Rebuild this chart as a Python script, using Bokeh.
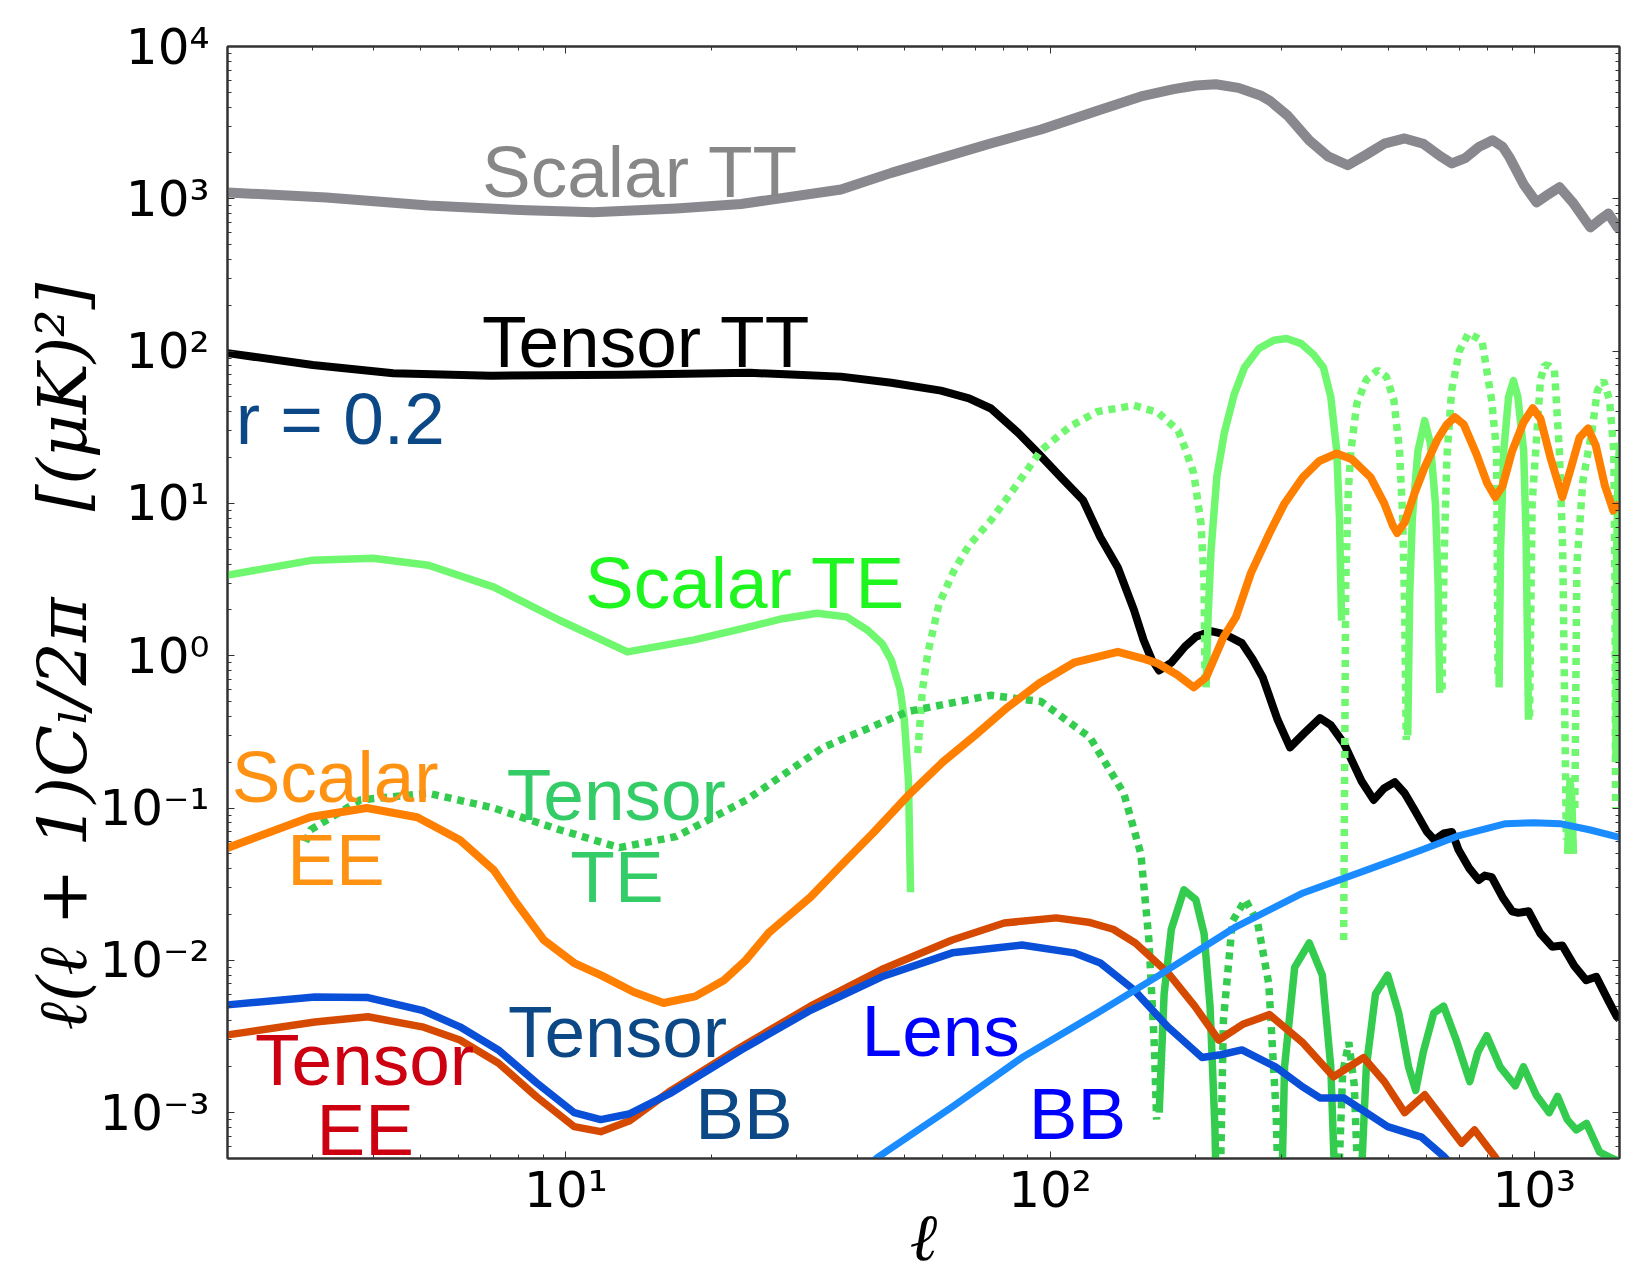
import math
from bokeh.plotting import figure
from bokeh.models import FixedTicker, LogAxis, Label, Range1d
from bokeh.embed import file_html
from bokeh.resources import INLINE

# ---- multipole values and power spectra, l(l+1)C_l/2pi in (muK)^2 ----
scalar_tt_ell = [2, 3.2, 5.2, 8.3, 11.4, 16.9, 23, 37, 47, 59.5, 75, 95.8, 127, 154, 180, 200,
                 220, 245, 272, 284, 310, 343, 375, 412, 450, 490, 540, 590, 640, 676, 720, 770,
                 820, 860, 889, 950, 1011, 1060, 1128, 1200, 1306, 1360, 1423, 1486, 1500]
scalar_tt = [1100, 1020, 905, 840, 815, 865, 925, 1150, 1480, 1850, 2300, 2850, 3850, 4700, 5250, 5550,
             5650, 5350, 4770, 4420, 3500, 2420, 1900, 1660, 1950, 2300, 2490, 2300, 1900, 1707, 1850, 2200,
             2420, 2200, 1870, 1250, 946, 1050, 1190, 950, 649, 720, 802, 649, 640]

tensor_tt_ell = [2, 3, 4.4, 7, 13, 24, 30, 37, 47, 59.5, 68, 75.5, 86, 95, 106, 117, 127, 138, 149,
                 156, 162, 168, 178, 190, 200, 215, 230, 249, 262, 275, 295, 313, 335, 361, 380, 404,
                 440, 466, 490, 515, 540, 566, 600, 622, 650, 676, 698, 735, 768, 790, 817, 860, 900,
                 927, 973, 1030, 1089, 1143, 1210, 1280, 1343, 1420, 1479, 1500]
tensor_tt = [97, 81, 71.5, 69, 70, 72, 70, 68, 62, 55, 49, 42, 29, 21, 14.5, 10.5, 6.0, 3.8, 2.0,
             1.27, 0.95, 0.8, 0.9, 1.15, 1.33, 1.45, 1.38, 1.21, 0.95, 0.72, 0.38, 0.25, 0.31, 0.39, 0.35, 0.267,
             0.15, 0.113, 0.135, 0.148, 0.125, 0.097, 0.07, 0.0617, 0.068, 0.0697, 0.053, 0.04, 0.0337, 0.036, 0.0352, 0.026, 0.021,
             0.0205, 0.021, 0.015, 0.0123, 0.0125, 0.0092, 0.0074, 0.0078, 0.0055, 0.0043, 0.0041]

# signed TE spectra: positive parts drawn solid, negative parts dotted
scalar_te_ell = [2, 3, 4, 5.2, 7.1, 9.7, 13.4, 18.4, 23, 28, 33, 38, 42, 45, 47, 49, 50, 51, 51.5,
                 53.3, 54.5, 55.9, 59, 63.4, 68, 75.5, 85, 95.8, 110, 125, 149, 167, 184, 191, 198, 205, 208, 209,
                 210, 212, 215, 221, 229, 240, 252, 270, 290, 308, 330, 350, 367, 380, 391, 396, 400,
                 404, 408, 413, 418, 430, 450, 475, 495, 513, 527, 535, 540, 544,
                 548, 553, 560, 575, 594, 610, 625, 633, 638,
                 645, 652, 660, 675, 700, 732, 780, 817, 836, 842,
                 846, 852, 865, 885, 906, 925, 951, 962, 973,
                 978, 990, 1007, 1030, 1050, 1075, 1101, 1127, 1145, 1165,
                 1172, 1185, 1195, 1205,
                 1213, 1225, 1260, 1316, 1350, 1391, 1430, 1460, 1468, 1472,
                 1474, 1480, 1490, 1500]
scalar_te = [3.38, 4.24, 4.37, 3.93, 2.82, 1.71, 1.06, 1.27, 1.5, 1.75, 1.9, 1.8, 1.47, 1.2, 0.935, 0.6, 0.38, 0.15, 0.028,
             -0.23, -0.6, -1.04, -2.2, -3.65, -5.3, -7.76, -13, -22.3, -32, -40, -44, -39.6, -30, -22, -15.8, -7.4, -3.0, -0.66,
             0.62, 1.8, 4.9, 15, 29, 52, 78, 104, 118, 121, 112, 95, 78, 50, 22, 8, 1.7,
             -0.0136, -3, -12, -22, -45, -65, -75, -68, -47.5, -22, -8, -2, -0.28,
             0.3, 2.5, 8, 22, 35, 25, 10, 3, 0.57,
             -0.6, -5, -20, -55, -100, -131, -117, -47, -22, -0.7,
             0.62, 5, 22, 50, 64, 50, 22, 6, 0.38,
             -0.4, -10, -22, -65, -81, -80, -75, -22, -5, -0.062,
             0.05, 0.15, 0.12, 0.05,
             -0.1, -4, -14, -30, -55, -64, -48, -22, -3, -0.1,
             0.2, 5, 15, 25]

tensor_te_ell = [2.9, 2.97, 3.76, 5.2, 7.1, 9.7, 12.9, 16.9, 23.6, 34, 50.8, 75.5, 95.8, 121, 142, 154, 160, 164, 166,
                 168, 172, 178, 189, 200, 208, 214, 219, 221,
                 224, 228, 238, 253, 268, 283, 293, 297,
                 300, 305, 320, 343, 365, 380, 388,
                 395, 402, 414, 425, 433,
                 438, 450, 470, 498, 525, 550, 569, 590, 620, 650, 690, 736, 765, 798, 850, 914, 950,
                 1010, 1074, 1117, 1170, 1222, 1282, 1365, 1450, 1500]
tensor_te = [-0.06, -0.072, -0.113, -0.125, -0.10, -0.072, -0.055, -0.065, -0.113, -0.25, -0.43, -0.55, -0.5, -0.29, -0.125, -0.05, -0.0136, -0.003, -0.0009,
             0.001, 0.006, 0.016, 0.029, 0.025, 0.015, 0.005, 0.0008, 0.0002,
             -0.0002, -0.004, -0.018, -0.025, -0.018, -0.007, -0.001, -0.0002,
             0.0002, 0.002, 0.009, 0.013, 0.008, 0.002, 0.0003,
             -0.0004, -0.0018, -0.0029, -0.0015, -0.0003,
             0.0003, 0.002, 0.006, 0.008, 0.0045, 0.002, 0.0014, 0.0025, 0.0045, 0.005, 0.003, 0.0016, 0.0025, 0.0032, 0.002, 0.0015, 0.002,
             0.0013, 0.001, 0.00128, 0.0009, 0.00077, 0.00085, 0.00055, 0.0005, 0.00048]

scalar_ee_ell = [2, 2.97, 3.88, 4.93, 6.04, 7.1, 7.9, 9.0, 10.4, 11.8, 13.8, 15.9, 18.5, 21.2, 23.5, 26.2,
                 32, 37, 43, 50.8, 60, 70, 81.8, 95, 112, 138, 157, 167, 183, 198, 210, 228, 242, 260,
                 284, 305, 333, 360, 391, 420, 459, 490, 510, 521, 540, 565, 594, 630, 660, 685, 715,
                 760, 800, 831, 860, 900, 950, 993, 1030, 1080, 1143, 1190, 1240, 1291, 1340, 1400, 1456, 1500]
scalar_ee = [0.0547, 0.0873, 0.1, 0.087, 0.0617, 0.039, 0.0238, 0.0136, 0.0096, 0.008, 0.0062, 0.00525, 0.0058, 0.0074, 0.0100, 0.0151,
             0.026, 0.042, 0.068, 0.12, 0.2, 0.3, 0.46, 0.66, 0.9, 1.06, 0.95, 0.89, 0.75, 0.62, 0.72, 1.32, 1.79, 3.5,
             6.4, 10, 14.9, 19, 21.3, 19.5, 14.9, 10, 7.2, 6.4, 7.5, 11.5, 17.3, 26, 33, 36.8, 33,
             21, 13.5, 11, 13, 22, 34, 42.2, 36, 20, 11, 17, 27, 31.1, 24, 13, 9, 10]

tensor_ee_ell = [2, 3.03, 3.9, 5.05, 6.04, 7.25, 8.7, 10.4, 11.8, 13.5, 16.5, 23, 32, 44.9, 62.8, 80.4, 103,
                 120, 135, 150, 175, 199, 223, 250, 284, 333, 385, 444, 490, 540, 594, 650, 708, 753, 831, 870]
tensor_ee = [0.00324, 0.00394, 0.00426, 0.00366, 0.003, 0.00212, 0.00127, 0.00081, 0.00075, 0.00088, 0.0014, 0.0027, 0.005, 0.0087, 0.0136, 0.0176, 0.019,
             0.0178, 0.016, 0.013, 0.0083, 0.005, 0.003, 0.0038, 0.0044, 0.00287, 0.00172, 0.0023, 0.0016, 0.001, 0.00131, 0.0009, 0.00063, 0.00077, 0.00051, 0.0004]

tensor_bb_ell = [2, 3.03, 3.9, 5.05, 6.04, 7.25, 8.7, 10.4, 11.8, 13.5, 16.5, 23, 32, 44.9, 62.8, 87.5, 112,
                 127, 149, 175, 206, 225, 249, 292, 330, 361, 404, 450, 498, 585, 653, 700]
tensor_bb = [0.0051, 0.00575, 0.0057, 0.0047, 0.00366, 0.00258, 0.00157, 0.001, 0.0009, 0.00098, 0.00135, 0.00258, 0.0047, 0.0078, 0.0112, 0.0126, 0.0112,
             0.0096, 0.0064, 0.00366, 0.0023, 0.0024, 0.00258, 0.002, 0.0015, 0.00125, 0.00125, 0.001, 0.00081, 0.00069, 0.00051, 0.0004]

lens_bb_ell = [42, 44.1, 62.8, 87.5, 125, 165, 242, 333, 459, 585, 700, 873, 1000, 1130, 1300, 1479, 1500]
lens_bb = [0.00045, 0.00051, 0.00109, 0.0023, 0.0045, 0.0077, 0.0166, 0.0277, 0.04, 0.053, 0.066, 0.079, 0.08, 0.079, 0.072, 0.065, 0.064]

# axis ticks
x_ticks = [10, 100, 1000]
x_tick_labels = ["10\u00b9", "10\u00b2", "10\u00b3"]
y_ticks = [0.001, 0.01, 0.1, 1, 10, 100, 1000, 10000]
y_tick_labels = ["10\u207b\u00b3", "10\u207b\u00b2", "10\u207b\u00b9", "10\u2070",
                 "10\u00b9", "10\u00b2", "10\u00b3", "10\u2074"]
x_minor = [m * 10 ** e for e in range(0, 4) for m in range(2, 10)]
y_minor = [m * 10.0 ** e for e in range(-4, 4) for m in range(2, 10)]


def split_by_sign(ells, vals):
    """Split a signed spectrum into runs of |value| for positive and negative parts."""
    pos, neg = [], []
    run, sign = None, None
    for l, v in zip(ells, vals):
        s = v > 0
        if sign is None or s != sign:
            if run:
                (pos if sign else neg).append(run)
            run = ([], [])
            sign = s
        run[0].append(l)
        run[1].append(abs(v))
    if run:
        (pos if sign else neg).append(run)
    return pos, neg


p = figure(width=1629, height=1279, x_axis_type="log", y_axis_type="log",
           x_range=Range1d(2, 1500), y_range=Range1d(5e-4, 1e4),
           output_backend="svg", toolbar_location=None,
           min_border_left=227, min_border_right=10, min_border_top=46, min_border_bottom=121)
p.background_fill_color = "white"
p.border_fill_color = "white"
p.outline_line_color = "#333333"
p.outline_line_width = 2
p.xgrid.visible = False
p.ygrid.visible = False

tick_font = "DejaVu Sans"
p.xaxis.ticker = FixedTicker(ticks=x_ticks, minor_ticks=x_minor)
p.xaxis.major_label_overrides = dict(zip(x_ticks, x_tick_labels))
p.xaxis.major_label_standoff = 2
p.yaxis.ticker = FixedTicker(ticks=y_ticks, minor_ticks=y_minor)
p.yaxis.major_label_overrides = dict(zip(y_ticks, y_tick_labels))
p.yaxis.major_label_standoff = 18
for ax in list(p.xaxis) + list(p.yaxis):
    ax.major_label_text_font = tick_font
    ax.major_label_text_font_size = "50px"
    ax.major_label_text_color = "black"
    ax.major_tick_in = 7
    ax.major_tick_out = 0
    ax.minor_tick_in = 4
    ax.minor_tick_out = 0
    ax.axis_line_color = "#333333"
    ax.axis_line_width = 2
    ax.major_tick_line_color = "#333333"
    ax.minor_tick_line_color = "#333333"
    ax.axis_label_text_font = "DejaVu Serif"
    ax.axis_label_text_font_style = "italic"
    ax.axis_label_text_color = "black"

# axis titles; no-break spaces keep the gaps, and the trailing run (closed by a
# zero-width space) moves the y title down along the axis
NBSP = "\u00a0"
p.xaxis.axis_label = "\u2113"
p.xaxis.axis_label_text_font_size = "66px"
p.xaxis.axis_label_standoff = -23
p.yaxis.axis_label = ("\u2113(\u2113" + NBSP + "+" + NBSP + "1)C\u2097/2\u03c0" + NBSP * 4 +
                      "[(\u03bcK)\u00b2]" + NBSP * 5 + "\u200b")
p.yaxis.axis_label_text_font_size = "68px"
p.yaxis.axis_label_standoff = -6

# tick marks on the opposite edges, without labels
top = LogAxis(ticker=FixedTicker(ticks=x_ticks, minor_ticks=x_minor))
right = LogAxis(ticker=FixedTicker(ticks=y_ticks, minor_ticks=y_minor))
for ax in (top, right):
    ax.major_label_text_font_size = "1px"
    ax.major_label_text_alpha = 0
    ax.major_label_standoff = 0
    ax.major_tick_in = 7
    ax.major_tick_out = 0
    ax.minor_tick_in = 4
    ax.minor_tick_out = 0
    ax.axis_line_color = "#333333"
    ax.axis_line_width = 2
    ax.major_tick_line_color = "#333333"
    ax.minor_tick_line_color = "#333333"
p.add_layout(top, "above")
p.add_layout(right, "right")

DOT = "7 6"

p.line(scalar_tt_ell, scalar_tt, line_color="#88888e", line_width=10, line_join="round")
p.line(tensor_tt_ell, tensor_tt, line_color="black", line_width=8, line_join="round")

te_pos, te_neg = split_by_sign(scalar_te_ell, scalar_te)
p.multi_line([r[0] for r in te_pos], [r[1] for r in te_pos], line_color="#6ff76f", line_width=7.5, line_join="round")
p.multi_line([r[0] for r in te_neg], [r[1] for r in te_neg], line_color="#6ff76f", line_width=7.5, line_dash=DOT)

tte_pos, tte_neg = split_by_sign(tensor_te_ell, tensor_te)
p.multi_line([r[0] for r in tte_pos], [r[1] for r in tte_pos], line_color="#34cc4e", line_width=7.5, line_join="round")
p.multi_line([r[0] for r in tte_neg], [r[1] for r in tte_neg], line_color="#34cc4e", line_width=7.5, line_dash=DOT)

p.line(scalar_ee_ell, scalar_ee, line_color="#ff7f00", line_width=8, line_join="round")
p.line(tensor_ee_ell, tensor_ee, line_color="#d54a00", line_width=7.5, line_join="round")
p.line(tensor_bb_ell, tensor_bb, line_color="#0a4fd8", line_width=7.5, line_join="round")
p.line(lens_bb_ell, lens_bb, line_color="#1a8cff", line_width=7, line_join="round")

LABEL_FONT = "Liberation Sans"
LABEL_SIZE = "73px"
labels = [
    ("Scalar TT", 6.71, 1513, "#878787", "left"),
    ("Tensor TT", 6.71, 116, "black", "left"),
    ("r = 0.2", 2.08, 36.3, "#0b4885", "left"),
    ("Scalar TE", 10.95, 3.04, "#1ff51f", "left"),
    ("Scalar", 2.04, 0.160, "#ff9212", "left"),
    ("EE", 3.35, 0.0456, "#ff9212", "center"),
    ("Tensor", 7.55, 0.122, "#33cc66", "left"),
    ("TE", 12.75, 0.0353, "#33cc66", "center"),
    ("Tensor", 2.28, 0.00225, "#cc0010", "left"),
    ("EE", 3.85, 0.00078, "#cc0010", "center"),
    ("Tensor", 7.59, 0.00339, "#0b4885", "left"),
    ("BB", 18.5, 0.000983, "#0b4885", "left"),
    ("Lens", 40.8, 0.00344, "#0000ff", "left"),
    ("BB", 90.4, 0.000983, "#0000ff", "left"),
]
for text, lx, ly, color, align in labels:
    p.add_layout(Label(x=lx, y=ly, text=text, text_font=LABEL_FONT, text_font_size=LABEL_SIZE,
                       text_color=color, text_align=align, text_baseline="alphabetic"))

open("out.html", "w").write(file_html(p, INLINE))
